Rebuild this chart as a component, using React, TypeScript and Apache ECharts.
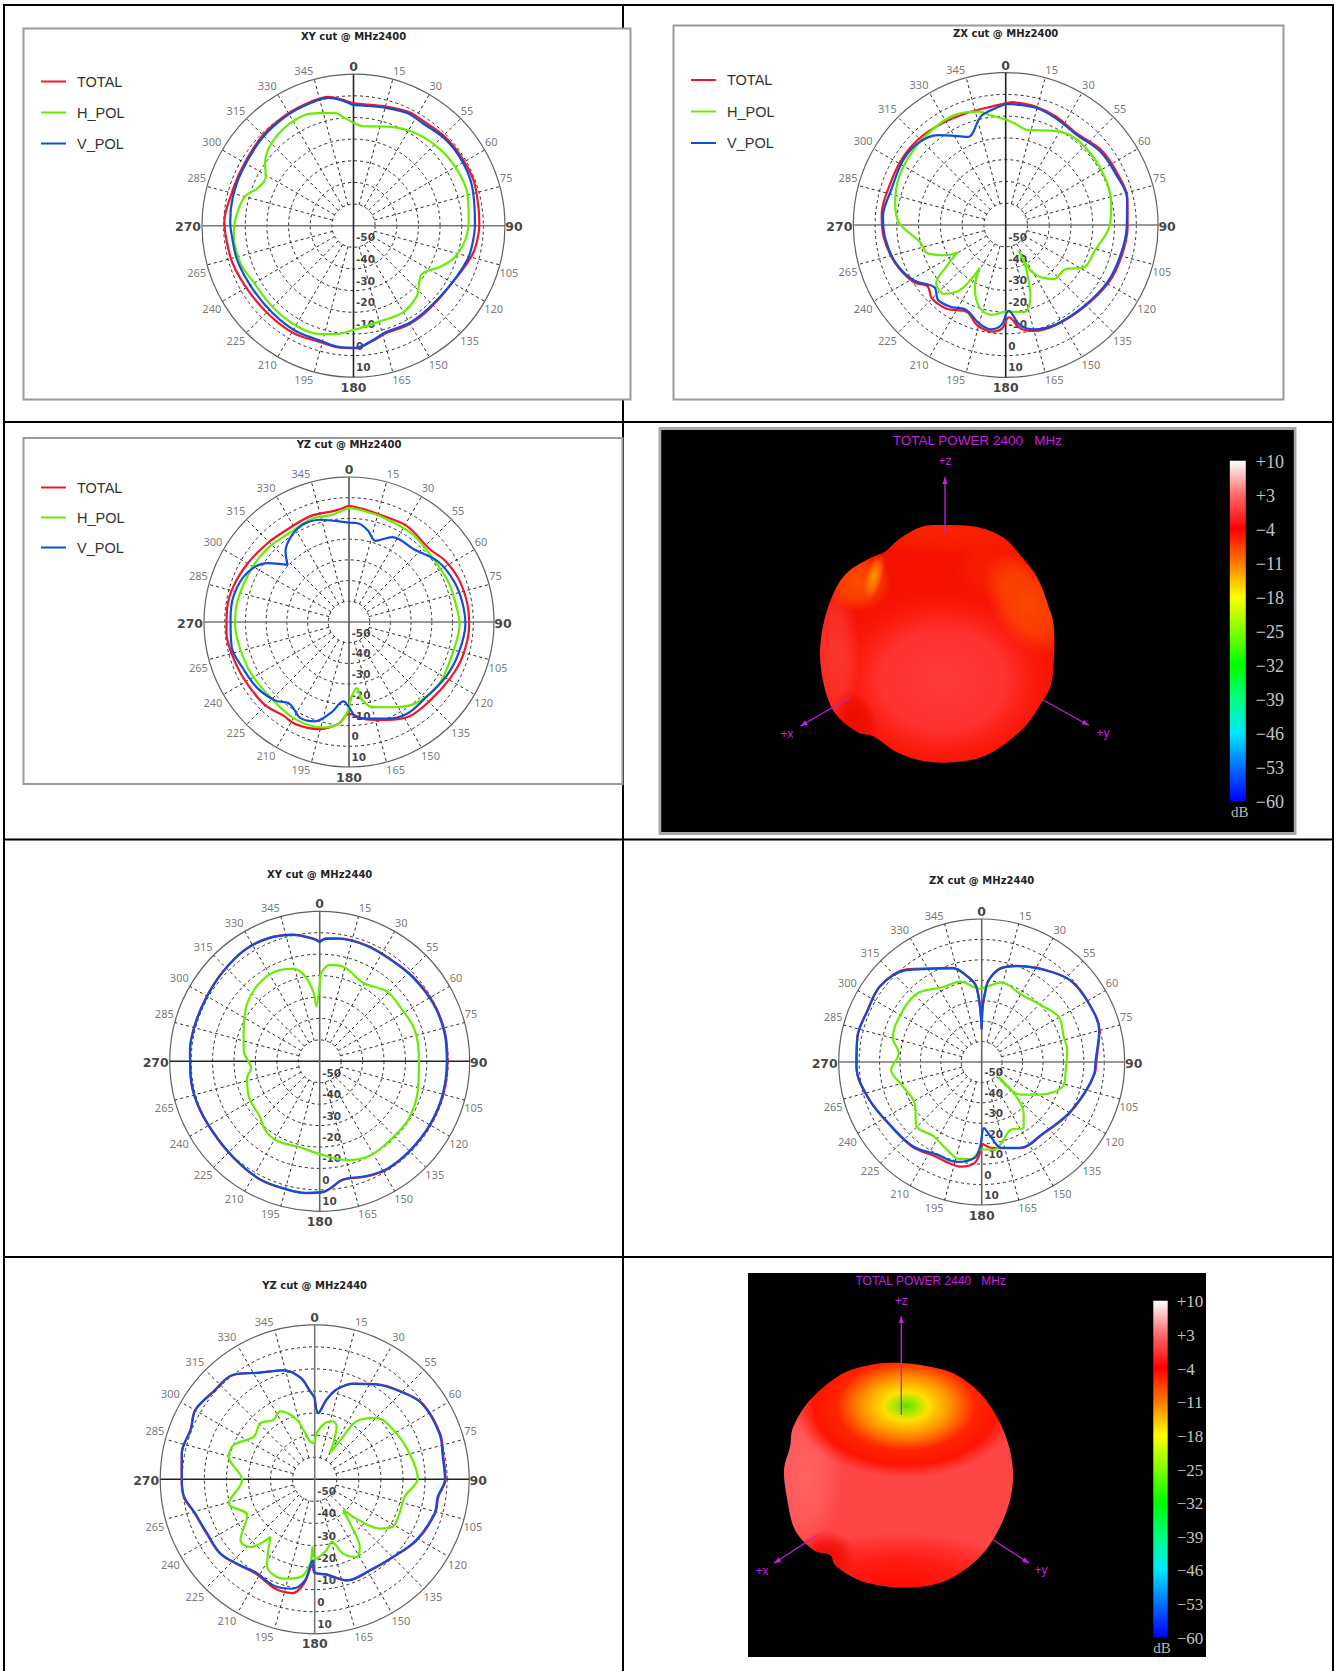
import React, { useEffect, useRef } from "react";
import * as echarts from "echarts";

type Pt = [number, number]; // [angle in degrees, gain in dB]

const RADIAL_TICKS = [-50, -40, -30, -20, -10, 0, 10];
const ANGLE_LABELS = ["0","15","30","55","60","75","90","105","120","135","150","165","180","195","210","225","240","265","270","285","300","315","330","345"];
const SERIES_NAMES = ["TOTAL", "H_POL", "V_POL"];
const COLORBAR_LABELS = ["+10","+3","−4","−11","−18","−25","−32","−39","−46","−53","−60"];

const XY2400_TOTAL: Pt[] = [[0,-3.5],[5,-3.7],[16,-2.9],[26,-1.6],[34,-1.9],[46,-1.1],[57,-0.9],[69,-0.7],[81,-1.6],[90,-1.9],[100,-2.8],[106,-4.1],[116,-6.6],[129,-8],[141,-7.9],[151,-7.7],[163,-8.1],[171,-5.9],[179,-3.4],[187,-3.3],[197,-4.1],[209,-3.2],[223,-3.3],[238,-2.9],[253,-1.5],[265,-0.8],[272,-0.3],[283,-1.6],[296,-2],[314,-0.9],[329,0],[341,0.6],[349,0.7],[355,-1.6]];
const XY2400_VPOL: Pt[] = [[0,-4.3],[5,-4.3],[16,-3.5],[26,-2.3],[34,-2.9],[46,-1.8],[57,-1.6],[69,-2],[81,-3.4],[90,-3.9],[100,-4.5],[106,-5],[116,-6.8],[129,-8.2],[141,-8.4],[151,-8.2],[163,-8.6],[171,-6.2],[179,-3.6],[187,-3.6],[197,-4.8],[209,-4.5],[223,-5],[238,-5],[253,-4],[265,-3.6],[272,-3],[283,-2.7],[296,-2.6],[314,-1.5],[329,-0.5],[341,0.1],[349,0.2],[355,-2]];
const XY2400_HPOL: Pt[] = [[0,-12.5],[6,-13.8],[19,-11.6],[34,-8.5],[49,-6.6],[62,-5.6],[74,-5.3],[87,-6.7],[97,-7.9],[107,-10.9],[115,-15.4],[125,-21.3],[133,-18.8],[138,-16.2],[150,-13.9],[165,-14.1],[180,-11.8],[190,-9.1],[200,-7.1],[214,-6.8],[227,-7.1],[241,-6.9],[251,-5.1],[265,-4.5],[274,-5.5],[285,-8],[291,-12.3],[299,-13.7],[305,-10.1],[315,-6.3],[328,-4.4],[339,-4.5],[350,-7.1],[356,-10.4]];

const ZX2400_TOTAL: Pt[] = [[3,-3.5],[14,-3.9],[25,-5.1],[38,-6.8],[52,-4.2],[65,-3.5],[78,-2.8],[91,-4],[105,-4.9],[119,-5.8],[136,-7.8],[153,-8.6],[165,-9.6],[172,-12.1],[178,-17.6],[182,-12.5],[187,-10.7],[196,-12.2],[204,-16.3],[215,-13],[225,-12.2],[232,-14.4],[238,-10.3],[251,-6.3],[264,-3.7],[275,-2.8],[288,-3.6],[302,-3.5],[314,-3.8],[328,-4.9],[341,-5.6],[353,-5.2]];
const ZX2400_VPOL: Pt[] = [[0,-4.4],[14,-4.4],[25,-5.8],[38,-7.3],[52,-5],[65,-4.3],[78,-3],[91,-4.4],[105,-5.5],[119,-6.4],[136,-8.2],[153,-8.9],[165,-10.4],[172,-13.7],[178,-20.6],[182.5,-14],[188,-11.6],[195,-13.1],[205,-17],[214,-14.7],[222,-13.6],[229,-16.5],[239,-10.7],[251,-6.6],[264,-4.3],[274,-3.5],[287,-5],[302,-4.3],[313,-4.9],[323,-8.3],[330,-12.7],[337,-16],[347,-8.9],[353,-6.8]];
const ZX2400_HPOL: Pt[] = [[0,-11.5],[5,-13.1],[13,-15.2],[26,-11.8],[37,-9.1],[52,-9.1],[68,-9.6],[80,-10.8],[91,-12.4],[106,-17.4],[118,-19],[127,-26],[138,-26.6],[150,-34.3],[153,-46.8],[154.5,-38.8],[161,-25.1],[168,-19.1],[179,-20.2],[189,-18.2],[198,-20.5],[206.5,-28.3],[211,-36.9],[215,-23.6],[222,-17.5],[230,-18.3],[235,-26.7],[240.5,-34.6],[243,-29.4],[250,-21.9],[259,-19.8],[271,-11.1],[281,-8.3],[294,-6.3],[309,-5.4],[323,-4.7],[335,-4.3],[347,-6.6],[352,-9.1]];

const YZ2400_TOTAL: Pt[] = [[0,-3.9],[7,-5],[18,-6.2],[31,-5.9],[48,-7.5],[58,-4.8],[70,-3],[84,-2.1],[92,-2],[107,-2.7],[119,-4.1],[134,-5.5],[147,-5.9],[159,-9.4],[170,-12.3],[180,-15.6],[186,-10.5],[196,-6.2],[208,-4.3],[215,-4.8],[226,-2.9],[242,-2.3],[255,-1.3],[265,-0.6],[276,-0.8],[287,-1.6],[300,-3.5],[314,-5.3],[326,-6.3],[340,-5.6],[353,-5.8]];
const YZ2400_HPOL: Pt[] = [[0,-4.9],[7,-5.8],[18,-6.9],[35,-7.6],[51,-9.1],[68,-8.3],[82,-7.6],[91,-6.6],[107,-7.8],[125,-7.2],[141,-9.4],[154,-14.2],[165,-17.6],[171,-22.6],[173,-27.8],[178,-23.9],[181,-16.4],[186,-10.5],[194,-7.5],[209,-6.4],[225,-7.4],[242,-6.6],[257,-5.8],[269,-5],[281,-5.2],[299,-6.4],[312,-7],[325,-8.3],[340,-7.1],[351,-7.6]];
const YZ2400_VPOL: Pt[] = [[0,-12],[6,-12.3],[12,-15.1],[18,-18.8],[27,-14],[42,-12.9],[56,-8],[69,-5.6],[80,-4.5],[91,-3.8],[106,-5],[119,-6.2],[134,-8],[148,-7.6],[159,-10],[170,-12.7],[176,-14.2],[180,-18.9],[184,-21.6],[191,-15.6],[199,-9.3],[207,-8.1],[216,-11.2],[223,-8.1],[234,-5.5],[246,-4.2],[258,-2.1],[271,-2.8],[283,-2.9],[296,-5.5],[306,-11.6],[313,-19.5],[318,-14.2],[326,-10.1],[335,-7.9],[345,-8.9],[352,-10.7]];

const XY2440_TOTAL: Pt[] = [[0,-4.2],[3,-2.6],[9,-1.9],[22,-1.6],[34,-2],[48,-1.2],[63,-0.3],[77,0],[90,-0.4],[105,-0.3],[120,-0.5],[135,-0.6],[148,-0.6],[158,-2],[169,-3.6],[175,-0.6],[179,1.2],[186,1.9],[194,1.8],[207,1.8],[222,0.4],[237,-0.1],[251,0.5],[263,0.7],[275,0.8],[287,0.7],[300,0.8],[313,1.6],[326,2.7],[337,2.3],[348,0.4],[357,-2.7]];
const XY2440_VPOL: Pt[] = [[0,-4.4],[3,-2.8],[9,-2.1],[22,-1.8],[34,-2.2],[48,-1.5],[63,-0.6],[77,-0.3],[90,-0.7],[105,-0.6],[120,-0.7],[135,-0.8],[148,-0.8],[158,-2.2],[169,-3.8],[175,-0.7],[179,1.1],[186,1.7],[194,1.7],[207,1.7],[222,0.2],[237,-0.3],[251,0.4],[263,0.6],[275,0.7],[287,0.6],[300,0.7],[313,1.5],[326,2.6],[337,2.2],[348,0.3],[357,-2.8]];
const XY2440_HPOL: Pt[] = [[0.5,-19.3],[6,-14.8],[14,-14.5],[29,-18.1],[44,-14.8],[55,-14.7],[72,-13.3],[90,-13.7],[106,-12.3],[122,-10.6],[136,-10.7],[152,-10.1],[165,-12.3],[180,-16.7],[193,-18.8],[208,-17.9],[218,-18.9],[227,-21.9],[243,-23],[257,-25.2],[264,-27.8],[278,-24.2],[290,-22.2],[311,-16.1],[330,-13.2],[344,-15],[350,-19.5],[355,-27.9],[356.5,-34.2]];

const ZX2440_TOTAL: Pt[] = [[0,-44],[1,-33],[3,-25],[5,-19.5],[11,-13.4],[20,-9.9],[34,-5.4],[48,-0.8],[62,-0.1],[75,-0.3],[89,-3.8],[96,-4.4],[107,-7.3],[122,-10.6],[139,-13.7],[156,-13.8],[167,-16.7],[174,-17.8],[179,-19.5],[181,-15.5],[184,-10.5],[191,-7.8],[198,-8],[206,-8.5],[219,-6.4],[234,-5.6],[252,-1.8],[268,1.4],[281,2.1],[294,1.4],[307,2.1],[321,-1.6],[331,-7.6],[343,-11.8],[350,-17],[356,-23]];
const ZX2440_VPOL: Pt[] = [[0,-44.1],[1,-33],[2.7,-26.6],[4.7,-20.1],[11,-13.6],[20,-10.1],[34,-5.6],[47.5,-1],[61.5,-0.3],[75,-0.5],[89,-4.2],[96,-4.7],[107,-7.6],[121.5,-10.8],[139,-13.9],[156,-14],[167,-16.9],[173.5,-23.6],[178,-27.6],[181,-18.9],[184,-13.1],[194,-9.6],[206,-9.7],[219,-6.8],[233.5,-5.9],[251.5,-2],[268,1.3],[281,2],[294,1.2],[307,2],[320.6,-1.8],[331,-7.9],[343,-12.1],[350,-17.2],[356,-23.3]];
const ZX2440_HPOL: Pt[] = [[0,-24.2],[6,-22.4],[14,-19.8],[30,-21.7],[48,-19.4],[60,-16.3],[73,-18],[82,-17.7],[95,-18.7],[106,-18.3],[119,-27.1],[130,-35.2],[132,-49],[134,-38.2],[140.5,-27.7],[147.5,-21.8],[157,-23.9],[166,-19.3],[172,-16.6],[180,-17.3],[186,-12.2],[193,-11.2],[202,-14],[213,-16.7],[225.5,-15.2],[238.5,-21.5],[253,-19.6],[265,-15.5],[276,-19.2],[285,-15],[296,-14.1],[316,-13.8],[333,-18.8],[345,-19.3],[356,-23.8]];

const YZ2440_TOTAL: Pt[] = [[0,-23],[3,-29.8],[8.5,-23.3],[14,-17.9],[22,-13.2],[33,-8.6],[44,-4.4],[55,-0.3],[70,0.5],[80,-0.8],[90,-0.7],[98,-3.4],[106,-3.3],[121,-6.1],[135,-10],[149,-11.6],[162,-11.8],[173,-16.5],[180,-17.5],[181.4,-21],[186,-12.3],[191,-7.5],[196,-7.1],[201,-7.5],[212,-9.6],[221,-8.2],[232,-5.5],[243,-5.2],[255,-3.2],[262,-0.2],[270,0.3],[281,1.4],[292,0.6],[300,2.6],[311,0.7],[322,0.1],[333,-5.7],[344,-8.6],[352,-13.4],[357,-20]];
const YZ2440_VPOL: Pt[] = [[0,-23.1],[3.2,-30],[8.5,-23.5],[13.7,-18.1],[22,-13.4],[33,-8.8],[44,-4.6],[55,-0.5],[70,0.2],[80,-1.1],[90,-1],[98,-3.7],[106,-3.6],[121,-6.4],[135,-10.1],[149,-11.8],[162.5,-12],[173,-16.6],[180,-18],[181.4,-23.3],[185.5,-14],[192,-9.3],[201,-8.4],[212.6,-10.1],[220.7,-8.5],[231.6,-5.7],[243,-5.5],[255,-3.4],[262.4,-0.3],[270,0.2],[281,1.3],[292,0.5],[300.4,2.5],[311,0.6],[322,0],[333,-5.8],[344,-8.7],[352,-13.5],[357,-20]];
const YZ2440_HPOL: Pt[] = [[0,-43.6],[2.5,-39.1],[10.4,-34.1],[17.7,-32.4],[22.4,-34],[30.3,-46.3],[33.6,-36.7],[35.7,-27.6],[45,-20.6],[60.5,-17.6],[74.6,-15.5],[89.4,-13.3],[101,-18.5],[112,-18.6],[121.3,-18.6],[127.2,-23.1],[133.3,-34],[137.3,-41],[142,-32.8],[146.4,-23.1],[151.8,-20],[159,-23.9],[164.8,-30.6],[170.5,-27.4],[179.7,-24],[181.9,-29.3],[183,-21.7],[188.5,-15.2],[197.4,-12.8],[209,-15.4],[217.6,-27.1],[223.5,-17.7],[230.6,-16.5],[242,-25.4],[254.3,-19.6],[269.5,-27.1],[284.8,-19.8],[293,-20.2],[305,-26.3],[316,-24.6],[325,-27.2],[333,-25.5],[343.3,-31.8],[358,-43.6]];

const COLORS = { TOTAL: "#f5142a", H_POL: "#66ee00", V_POL: "#0f4fd8" };
const PURPLE = "#c41ee0";

const PLOTS = [
  { title: "XY cut @ MHz2400", cx: 353.5, cy: 225.7, r: 151.5, titleY: 37, data: [XY2400_TOTAL, XY2400_HPOL, XY2400_VPOL], hColor: "#777", vColor: "#222" },
  { title: "ZX cut @ MHz2400", cx: 1005.7, cy: 225, r: 152.4, titleY: 34.5, data: [ZX2400_TOTAL, ZX2400_HPOL, ZX2400_VPOL], hColor: "#777", vColor: "#222" },
  { title: "YZ cut @ MHz2400", cx: 349, cy: 622, r: 145, titleY: 445.5, data: [YZ2400_TOTAL, YZ2400_HPOL, YZ2400_VPOL], hColor: "#777", vColor: "#555" },
  { title: "XY cut @ MHz2440", cx: 319.7, cy: 1061.3, r: 150, titleY: 875.7, data: [XY2440_TOTAL, XY2440_HPOL, XY2440_VPOL], hColor: "#222", vColor: "#666" },
  { title: "ZX cut @ MHz2440", cx: 981.7, cy: 1062, r: 143, titleY: 881.7, data: [ZX2440_TOTAL, ZX2440_HPOL, ZX2440_VPOL], hColor: "#777", vColor: "#666" },
  { title: "YZ cut @ MHz2440", cx: 314.7, cy: 1479.3, r: 154.5, titleY: 1286.7, data: [YZ2440_TOTAL, YZ2440_HPOL, YZ2440_VPOL], hColor: "#222", vColor: "#777" },
];

const LEGENDS = [
  { left: 41, top: 74, gap: 16 },
  { left: 691, top: 72.5, gap: 16.5 },
  { left: 41, top: 480, gap: 15 },
];

const SILHOUETTE_2400: Pt[] = [[943.6,525],[978.2,527.3],[1004.3,538.3],[1021.6,556.7],[1036.8,576.7],[1047.6,603.3],[1054.1,630],[1052,680],[1041.1,703.3],[1021.6,730],[986.9,755],[952.2,762.3],[921.9,760.7],[895.9,751.7],[874.2,736.7],[856.8,731.7],[835.1,713.3],[824.3,686.7],[820,653.3],[824.3,620],[835.1,590],[848.2,571.7],[869.8,558.3],[885,551.7],[900.2,538.3],[921.9,526.7]];
const SILHOUETTE_2440: Pt[] = [[896.7,1362.7],[930,1366.7],[956.7,1375],[983.3,1396.7],[1003.3,1430],[1012.7,1466.7],[1010,1500],[996.7,1533.3],[976.7,1560],[943.3,1581.7],[903.3,1587.7],[863.3,1581.7],[836.7,1566.7],[830,1555],[813.3,1550],[795,1530],[787.3,1500],[784,1470],[790,1446.7],[793.3,1426.7],[810,1400],[840,1375],[870,1365]];

function smoothClosed(p: Pt[]): Pt[] {
  const out: Pt[] = [];
  const n = p.length;
  for (let i = 0; i < n; i++) {
    const a = p[(i - 1 + n) % n], b = p[i], c = p[(i + 1) % n], d = p[(i + 2) % n];
    for (let k = 0; k < 8; k++) {
      const t = k / 8, t2 = t * t, t3 = t2 * t;
      const f = (q: number, r: number, s: number, u: number) =>
        0.5 * (2 * r + (s - q) * t + (2 * q - 5 * r + 4 * s - u) * t2 + (3 * r - q - 3 * s + u) * t3);
      out.push([f(a[0], b[0], c[0], d[0]), f(a[1], b[1], c[1], d[1])]);
    }
  }
  return out;
}

const rect = (x: number, y: number, w: number, h: number, style: any) => ({ type: "rect", shape: { x, y, width: w, height: h }, style, silent: true });
const line = (x1: number, y1: number, x2: number, y2: number, stroke: string, lineWidth: number) => ({ type: "line", shape: { x1, y1, x2, y2 }, style: { stroke, lineWidth }, silent: true });
const text = (x: number, y: number, t: string, font: string, fill: string, align = "center") => ({ type: "text", x, y, silent: true, style: { text: t, font, fill, align, verticalAlign: "middle", textAlign: align, textVerticalAlign: "middle" } });
const blob = (x: number, y: number, rx: number, ry: number, stops: [number, string][], rot = 0) => ({
  type: "ellipse", x, y, rotation: rot, silent: true, shape: { cx: 0, cy: 0, rx, ry },
  style: { fill: new echarts.graphic.RadialGradient(0.5, 0.5, 0.5, stops.map(([offset, color]) => ({ offset, color }))) },
});
const fade = (rgb: string, a: number): [number, string][] => [[0, `rgba(${rgb},${a})`], [0.55, `rgba(${rgb},${a * 0.7})`], [1, `rgba(${rgb},0)`]];

function arrow(x1: number, y1: number, x2: number, y2: number) {
  const d = Math.hypot(x2 - x1, y2 - y1), ux = (x2 - x1) / d, uy = (y2 - y1) / d, L = 7, W = 2.6;
  return [
    line(x1, y1, x2, y2, PURPLE, 1.3),
    { type: "polygon", silent: true, shape: { points: [[x2, y2], [x2 - ux * L - uy * W, y2 - uy * L + ux * W], [x2 - ux * L + uy * W, y2 - uy * L - ux * W]] }, style: { fill: PURPLE } },
  ];
}

function maskPolygon(x0: number, y0: number, x1: number, y1: number, outline: Pt[]) {
  const hole = smoothClosed(outline).reverse();
  const pts: Pt[] = [[x0, y0], [x1, y0], [x1, y1], [x0, y1], [x0, y0], hole[0], ...hole, hole[0], [x0, y0]];
  return { type: "polygon", silent: true, shape: { points: pts }, style: { fill: "#000" } };
}

function colorbar(x: number, w: number, top: number, bottom: number, labelX: number, dbX: number, dbY: number, font: string) {
  const els: any[] = [
    rect(x, top, w, bottom - top, {
      fill: new echarts.graphic.LinearGradient(0, 0, 0, 1, [
        { offset: 0, color: "#ffffff" }, { offset: 0.1, color: "#ff6a6a" }, { offset: 0.2, color: "#ff0000" },
        { offset: 0.3, color: "#ff7a00" }, { offset: 0.4, color: "#ffff00" }, { offset: 0.5, color: "#80ff00" },
        { offset: 0.6, color: "#00ff00" }, { offset: 0.7, color: "#00ff80" }, { offset: 0.8, color: "#00e8ff" },
        { offset: 0.9, color: "#0070ff" }, { offset: 1, color: "#0000ff" },
      ]),
    }),
  ];
  COLORBAR_LABELS.forEach((t, i) => els.push(text(labelX, top + 1 + (bottom - top) * i / 10, t, font, "#c4c4c4", "left")));
  els.push(text(dbX, dbY, "dB", font.replace("18", "15").replace("17", "15"), "#b8b8b8"));
  return els;
}

function buildGraphic() {
  const els: any[] = [];
  const B = "#000";
  els.push(rect(3, 4, 2, 1667, { fill: B }), rect(1332, 4, 2, 1667, { fill: B }), rect(622, 4, 2, 1667, { fill: B }));
  [4, 421, 838.5, 1256].forEach((y) => els.push(rect(3, y, 1331, 2, { fill: B })));
  const frame = (x: number, y: number, w: number, h: number) => ({ type: "rect", silent: true, shape: { x, y, width: w, height: h }, style: { fill: "#fff", stroke: "#9a9a9a", lineWidth: 2 } });
  els.push(frame(23.5, 28.5, 607, 371), frame(673.5, 25.5, 610, 374), frame(23.5, 438, 599, 346));

  // 3D pattern 2400
  els.push({ type: "rect", silent: true, shape: { x: 660, y: 428.5, width: 635, height: 405 }, style: { fill: "#000", stroke: "#a8a8a8", lineWidth: 3 } });
  els.push(rect(815, 520, 245, 246, { fill: "#f51200" }));
  els.push(
    blob(943, 530, 90, 26, fade("255,58,0", 0.45)),
    blob(992, 570, 38, 32, fade("255,65,0", 0.3)),
    blob(943, 680, 125, 100, [[0, "rgba(255,60,60,1)"], [0.5, "rgba(255,52,52,0.92)"], [0.82, "rgba(255,30,20,0.35)"], [1, "rgba(255,20,10,0)"]]),
    blob(834, 655, 26, 75, fade("255,80,80", 0.6)),
    blob(858, 582, 34, 30, fade("255,88,0", 0.85)),
    blob(874, 577, 9, 24, [[0, "rgba(255,160,0,0.95)"], [0.6, "rgba(255,130,0,0.6)"], [1, "rgba(255,100,0,0)"]], -0.3),
    blob(1028, 604, 36, 58, fade("255,105,0", 0.65), 0.6),
    blob(857, 717, 18, 28, fade("235,12,0", 0.95), 0.5),
  );
  els.push(maskPolygon(661.5, 430, 1293.5, 832, SILHOUETTE_2400));
  els.push(text(977.4, 440.7, "TOTAL POWER 2400   MHz", "13.5px 'Liberation Sans'", PURPLE));
  els.push(text(945, 460.7, "+z", "12px 'Liberation Sans'", PURPLE));
  els.push(text(787, 734, "+x", "12px 'Liberation Sans'", PURPLE));
  els.push(text(1103, 733, "+y", "12px 'Liberation Sans'", PURPLE));
  els.push(...arrow(945, 534, 945, 477), ...arrow(850.3, 697.3, 800.5, 726), ...arrow(1043.3, 700, 1089, 725.5));
  els.push(...colorbar(1229.8, 16, 460.7, 801, 1255.8, 1239.7, 811.7, "18px 'Liberation Serif'"));

  // 3D pattern 2440
  els.push(rect(748, 1273, 458, 384, { fill: "#000" }));
  els.push(rect(780, 1358, 236, 234, { fill: "#ff4646" }));
  els.push(
    blob(802, 1475, 40, 75, fade("255,110,110", 0.7)),
    blob(900, 1592, 140, 60, fade("255,10,0", 1)),
    blob(826, 1556, 30, 26, fade("240,10,0", 0.95)),
    blob(900, 1368, 110, 24, fade("255,18,0", 0.7)),
    blob(906, 1406, 112, 72, [[0, "#60e000"], [0.1, "#a8e800"], [0.2, "#ffe000"], [0.4, "#ff9000"], [0.62, "#ff2400"], [0.82, "#ff1400"], [1, "rgba(255,30,20,0)"]]),
  );
  els.push(maskPolygon(748, 1273, 1206, 1657, SILHOUETTE_2440));
  els.push(text(930.7, 1281, "TOTAL POWER 2440   MHz", "12px 'Liberation Sans'", PURPLE));
  els.push(text(901.3, 1300.7, "+z", "12px 'Liberation Sans'", PURPLE));
  els.push(text(762, 1571, "+x", "12px 'Liberation Sans'", PURPLE));
  els.push(text(1041, 1570, "+y", "12px 'Liberation Sans'", PURPLE));
  els.push(...arrow(901.3, 1415, 901.3, 1316), ...arrow(817.3, 1535, 774, 1563.3), ...arrow(993.3, 1540, 1029.3, 1563.3));
  els.push(...colorbar(1153.3, 14.4, 1300.7, 1637.3, 1176.7, 1162, 1648.3, "17px 'Liberation Serif'"));
  return els;
}

// Offset of an angle label from its point on the outer ring.
function labelOffset(a: number): [number, number] {
  if (a === 0) return [0, -7.5];
  if (a === 90) return [9, 1];
  if (a === 180) return [0, 10];
  if (a === 270) return [-14, 1];
  if (a < 90) return [6.5, -8.5];
  if (a < 180) return [9, 7.5];
  if (a < 270) return [-10.5, 7.5];
  return [-10.5, -8.5];
}

function buildOption() {
  const polar: any[] = [], angleAxis: any[] = [], radiusAxis: any[] = [], title: any[] = [], series: any[] = [];
  const ringColors = ["transparent", ...RADIAL_TICKS.slice(0, 6).map(() => "#2a2a2a"), "transparent"];

  PLOTS.forEach((p, i) => {
    polar.push({ center: [p.cx, p.cy], radius: p.r });
    title.push({ text: p.title, left: p.cx, top: p.titleY - 6, textAlign: "center", padding: 0, textStyle: { fontFamily: "'DejaVu Sans'", fontSize: 10, fontWeight: "bold", color: "#222" } });
    angleAxis.push({
      polarIndex: i, type: "value", min: 0, max: 360, interval: 15, startAngle: 90,
      axisLine: { lineStyle: { color: "#606060", width: 1.2 } }, axisTick: { show: false }, splitLine: { show: false }, axisLabel: { show: false },
    });
    radiusAxis.push({
      polarIndex: i, type: "value", min: -60, max: 10, interval: 10,
      axisLine: { show: false }, axisTick: { show: false }, axisLabel: { show: false },
      splitLine: { show: true, lineStyle: { color: ringColors, type: [3, 3], width: 1 } },
    });
    const spokes: any[] = [];
    ANGLE_LABELS.forEach((_, k) => {
      const a = k * 15;
      if (a % 90 !== 0) spokes.push([-50, a], [10, a], ["-", "-"]);
    });
    const base = { type: "line", coordinateSystem: "polar", polarIndex: i, symbol: "none", silent: true, animation: false };
    series.push({ ...base, name: "spokes", data: spokes, lineStyle: { color: "#2a2a2a", width: 1, type: [3, 3] } });
    series.push({ ...base, name: "axis-h", data: [[10, 270], [-60, 0], [10, 90]], lineStyle: { color: p.hColor, width: 1.6 } });
    series.push({ ...base, name: "axis-v", data: [[10, 0], [-60, 0], [10, 180]], lineStyle: { color: p.vColor, width: 1.6 } });
    p.data.forEach((d, k) => {
      const name = SERIES_NAMES[k];
      const pts = [...d, d[0]].map(([a, db]) => [db, a]);
      series.push({ ...base, name, data: pts, smooth: 0.35, lineStyle: { color: (COLORS as any)[name], width: 2.2 }, itemStyle: { color: (COLORS as any)[name] } });
    });
    series.push({
      type: "scatter", coordinateSystem: "polar", polarIndex: i, name: "radial-labels", silent: true, symbolSize: 1,
      itemStyle: { color: "transparent" },
      data: RADIAL_TICKS.map((v) => [v, 180]),
      label: { show: true, position: "right", distance: 2, offset: [0, -10], formatter: (q: any) => String(q.value[0]), fontFamily: "'DejaVu Sans'", fontWeight: "bold", fontSize: 10.5, color: "#111" },
    });
    series.push({
      type: "scatter", coordinateSystem: "polar", polarIndex: i, name: "angle-labels", silent: true, symbolSize: 1,
      itemStyle: { color: "transparent" },
      data: ANGLE_LABELS.map((t, k) => {
        const a = k * 15, major = a % 90 === 0;
        return {
          value: [10, a], name: t,
          label: {
            show: true, position: "inside", offset: labelOffset(a), formatter: "{b}",
            fontFamily: major ? "'DejaVu Sans'" : "'Noto Sans'", fontWeight: major ? "bold" : "normal",
            fontSize: major ? 12.5 : 11, color: major ? "#111" : "#555",
          },
        };
      }),
    });
  });

  const legend = LEGENDS.map((l) => ({
    data: SERIES_NAMES, orient: "vertical", left: l.left, top: l.top, padding: 0, icon: "rect", itemWidth: 25, itemHeight: 2, itemGap: l.gap, selectedMode: false,
    textStyle: { fontFamily: "'Liberation Sans'", fontSize: 14.5, lineHeight: 14, color: "#333", padding: [0, 0, 0, 6] },
  }));

  return { animation: false, backgroundColor: "#fff", title, polar, angleAxis, radiusAxis, legend, series, graphic: { elements: buildGraphic() } };
}

export default function App() {
  const ref = useRef<HTMLDivElement>(null);
  useEffect(() => {
    const chart = echarts.init(ref.current!, undefined, { renderer: "svg" });
    chart.setOption(buildOption() as any);
    return () => chart.dispose();
  }, []);
  return <div ref={ref} style={{ position: "absolute", left: 0, top: 0, width: 1335, height: 1671 }} />;
}
